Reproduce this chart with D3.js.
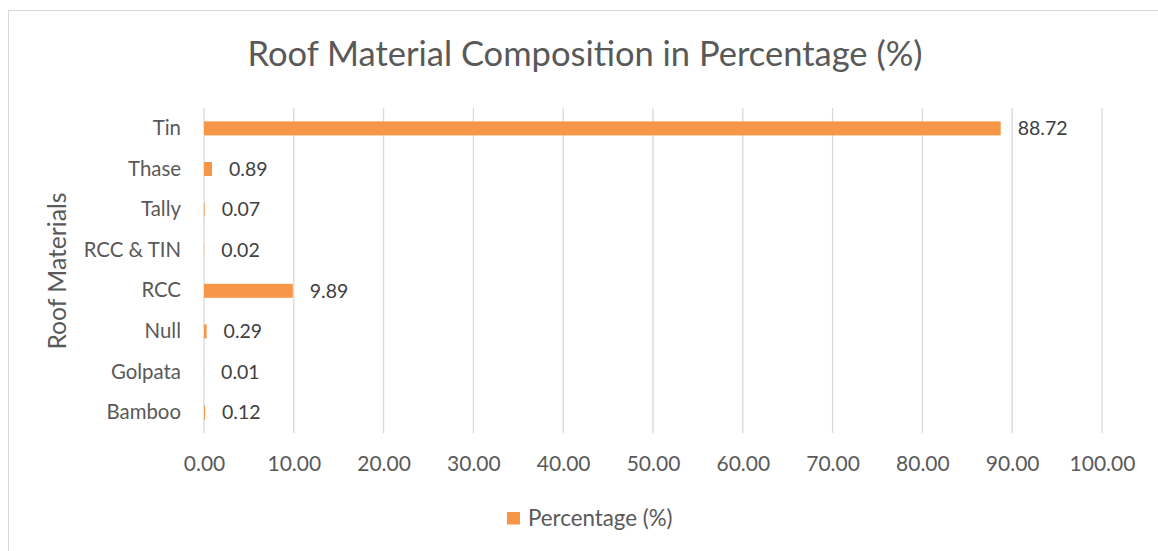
<!DOCTYPE html>
<html>
<head>
<meta charset="utf-8">
<script src="https://cdn.jsdelivr.net/npm/d3@7"></script>
<style>
  body { margin: 0; background: #fff; }
  svg text { font-family: Lato, "Open Sans", sans-serif; }
</style>
</head>
<body>
<div id="chart"></div>
<script>
const categories = ['Tin', 'Thase', 'Tally', 'RCC & TIN', 'RCC', 'Null', 'Golpata', 'Bamboo'];
const values = [88.72, 0.89, 0.07, 0.02, 9.89, 0.29, 0.01, 0.12];
const xTicks = [0, 10, 20, 30, 40, 50, 60, 70, 80, 90, 100];
const seriesName = 'Percentage (%)';

const W = 1158, H = 551;
const margin = { top: 108, right: 56, bottom: 118, left: 204 };
const width = W - margin.left - margin.right;
const height = H - margin.top - margin.bottom;

const svg = d3.select('#chart').append('svg')
  .attr('width', W)
  .attr('height', H);

// chart frame
svg.append('rect')
  .attr('x', 8.5).attr('y', 10.5)
  .attr('width', W + 10).attr('height', H + 10)
  .attr('fill', 'none')
  .attr('stroke', '#d9d9d9');

svg.append('text')
  .attr('x', 585).attr('y', 66)
  .attr('text-anchor', 'middle')
  .attr('font-size', 34.5)
  .attr('fill', '#595959')
  .text('Roof Material Composition in Percentage (%)');

const g = svg.append('g')
  .attr('transform', `translate(${margin.left},${margin.top})`);

const x = d3.scaleLinear().domain([0, 100]).range([0, width]);
const y = d3.scaleBand().domain(categories).range([0, height]).paddingInner(0.655).paddingOuter(0.33);

// gridlines
g.selectAll('.grid')
  .data(xTicks)
  .enter()
  .append('line')
  .attr('x1', d => x(d)).attr('x2', d => x(d))
  .attr('y1', 0).attr('y2', height)
  .attr('stroke', '#d9d9d9')
  .attr('stroke-width', 1.3);

// x axis labels
const xAxis = g.append('g')
  .attr('transform', `translate(0,${height})`)
  .call(d3.axisBottom(x).tickValues(xTicks).tickFormat(d3.format('.2f')).tickSize(0).tickPadding(23));
xAxis.select('.domain').remove();
xAxis.selectAll('text')
  .attr('font-size', 21)
  .attr('fill', '#595959')
  .style('font-family', 'Lato, sans-serif');

// y axis labels
const yAxis = g.append('g')
  .call(d3.axisLeft(y).tickSize(0).tickPadding(23));
yAxis.select('.domain').remove();
yAxis.selectAll('text')
  .attr('font-size', 20.4)
  .attr('fill', '#595959')
  .style('font-family', 'Lato, sans-serif');

// bars
g.selectAll('.bar')
  .data(values)
  .enter()
  .append('rect')
  .attr('x', x(0))
  .attr('y', (d, i) => y(categories[i]))
  .attr('width', d => x(d) - x(0))
  .attr('height', y.bandwidth())
  .attr('fill', '#f79646');

// data labels
g.selectAll('.lbl')
  .data(values)
  .enter()
  .append('text')
  .attr('x', d => x(d) + 17)
  .attr('y', (d, i) => y(categories[i]) + y.bandwidth() / 2)
  .attr('dy', '0.35em')
  .attr('font-size', 19.5)
  .attr('fill', '#404040')
  .text(d => d.toFixed(2));

// y axis title
svg.append('text')
  .attr('transform', 'translate(57,271) rotate(-90)')
  .attr('text-anchor', 'middle')
  .attr('dy', '0.35em')
  .attr('font-size', 24.7)
  .attr('fill', '#595959')
  .text('Roof Materials');

// legend
const legend = svg.append('g').attr('transform', 'translate(507,512)');
legend.append('rect')
  .attr('width', 13).attr('height', 12.5)
  .attr('fill', '#f79646');
legend.append('text')
  .attr('x', 21).attr('y', 6.5)
  .attr('dy', '0.35em')
  .attr('font-size', 22.3)
  .attr('fill', '#595959')
  .text(seriesName);
</script>
</body>
</html>
